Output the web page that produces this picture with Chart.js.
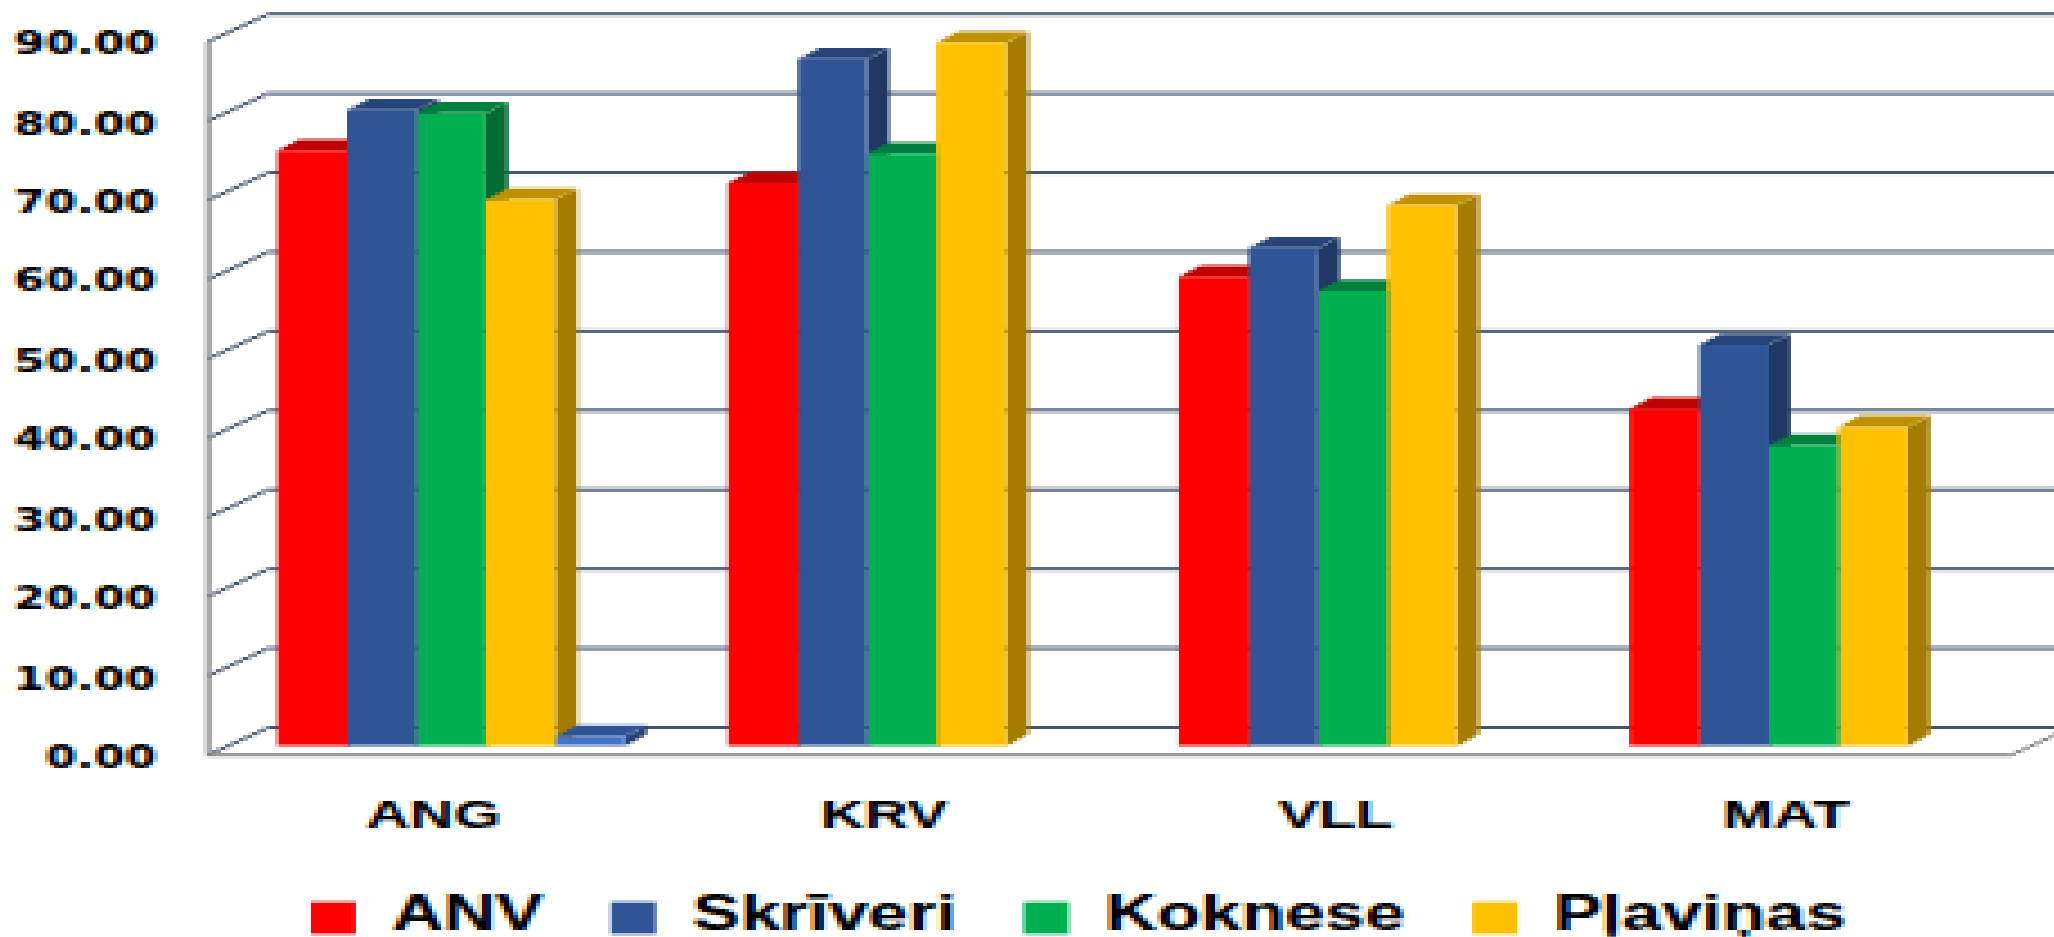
<!DOCTYPE html>
<html>
<head>
<meta charset="utf-8">
<title>ANG KRV VLL MAT</title>
<script src="https://cdn.jsdelivr.net/npm/chart.js@4"></script>
<style>
  html, body { margin: 0; padding: 0; background: #fff; overflow: hidden; width: 2054px; height: 937px; }
  /* the source is a small picture stretched wider than tall, so draw small and stretch */
  #chart { position: absolute; left: 0; top: 0; transform: scale(4.5, 3); transform-origin: 0 0; image-rendering: pixelated; }
</style>
</head>
<body>
<canvas id="chart" width="479" height="324"></canvas>
<script>
const categories = ['ANG', 'KRV', 'VLL', 'MAT'];
const anv = [75.1, 71.0, 59.2, 42.5];
const skriveri = [80.2, 86.6, 62.8, 50.6];
const koknese = [79.8, 74.7, 57.4, 37.9];
const plavinas = [68.9, 88.7, 68.2, 40.2];
const unnamed = [1.2, 0, 0, 0];

const seriesNames = ['ANV', 'Skrīveri', 'Koknese', 'Pļaviņas', ''];
const seriesValues = [anv, skriveri, koknese, plavinas, unnamed];
const frontColors = ['#ff0000', '#2f5597', '#00b050', '#ffc000', '#4472c4'];
const topColors = ['#bf0000', '#264478', '#00803d', '#bf9000', '#2f5597'];
const sideColors = ['#a00000', '#203864', '#006b33', '#a67c00', '#264478'];

const fontName = '"Liberation Sans", Arial, sans-serif';
const canvasWidth = 479, canvasHeight = 324;
const areaLeft = 46.2, areaRight = 446.9, areaTop = 13.9, areaBottom = 251.7;
const wallX = 13.4, wallY = 9.2;     // axis plane to back wall
const barX = 3.9, barY = -3.07;      // axis plane to front of the bars
const depthX = 4.9, depthY = 3.8;    // depth of a bar

function draw_wall(chart){
  const ctx = chart.ctx;
  const yAxis = chart.scales.y;
  const area = chart.chartArea;
  ctx.save();
  ctx.lineWidth = 1;
  ctx.strokeStyle = '#44546a';
  yAxis.ticks.forEach(function(tick){
    const y = yAxis.getPixelForValue(tick.value);
    ctx.beginPath();
    ctx.moveTo(area.left, y);
    ctx.lineTo(area.left + wallX, y - wallY);
    ctx.lineTo(area.right + wallX, y - wallY);
    ctx.stroke();
  });
  ctx.strokeStyle = '#868686';
  ctx.beginPath();
  ctx.moveTo(area.left, area.top);
  ctx.lineTo(area.left, area.bottom);
  ctx.lineTo(area.right, area.bottom);
  ctx.lineTo(area.right + wallX, area.bottom - wallY);
  ctx.stroke();
  ctx.restore();
}

function draw_depth(chart){
  const ctx = chart.ctx;
  chart.data.datasets.forEach(function(ds, i){
    chart.getDatasetMeta(i).data.forEach(function(bar, k){
      if(!seriesValues[i][k]) return;
      const right = bar.x + bar.width / 2;
      const left = bar.x - bar.width / 2;
      ctx.fillStyle = sideColors[i];
      ctx.beginPath();
      ctx.moveTo(right, bar.y);
      ctx.lineTo(right + depthX, bar.y - depthY);
      ctx.lineTo(right + depthX, bar.base - depthY);
      ctx.lineTo(right, bar.base);
      ctx.closePath();
      ctx.fill();
      ctx.fillStyle = topColors[i];
      ctx.beginPath();
      ctx.moveTo(left, bar.y);
      ctx.lineTo(left + depthX, bar.y - depthY);
      ctx.lineTo(right + depthX, bar.y - depthY);
      ctx.lineTo(right, bar.y);
      ctx.closePath();
      ctx.fill();
    });
  });
}

const depth_plugin = {
  id: 'depth',
  beforeDraw: function(chart){
    // context is opaque, clear leaves it black
    chart.ctx.save();
    chart.ctx.fillStyle = '#fff';
    chart.ctx.fillRect(0, 0, chart.width, chart.height);
    chart.ctx.restore();
  },
  beforeDatasetsDraw: function(chart){
    draw_wall(chart);
    chart.ctx.save();
    chart.ctx.translate(barX, barY);
    draw_depth(chart);
  },
  afterDatasetsDraw: function(chart){
    chart.ctx.restore();
  }
};

const canvas = document.getElementById('chart');
canvas.getContext('2d', {alpha: false});

const myChart = new Chart(canvas, {
  type: 'bar',
  plugins: [depth_plugin],
  data: {
    labels: categories,
    datasets: seriesNames.map(function(name, i){
      return {
        label: name,
        data: seriesValues[i],
        backgroundColor: frontColors[i],
        borderWidth: 0,
        inflateAmount: 0,
        categoryPercentage: 0.771,
        barPercentage: 1
      };
    })
  },
  options: {
    responsive: false,
    animation: false,
    devicePixelRatio: 1,
    layout: {
      autoPadding: false,
      padding: {left: 0, top: areaTop, right: 0, bottom: 0}
    },
    plugins: {
      title: {display: false},
      tooltip: {enabled: false},
      legend: {
        display: true,
        position: 'bottom',
        labels: {
          color: '#000',
          boxWidth: 10,
          boxHeight: 10.7,
          padding: 15,
          font: {family: fontName, size: 16, weight: 'bold'},
          filter: x => x.text != ''
        }
      }
    },
    scales: {
      x: {
        grid: {display: false, drawTicks: false},
        border: {display: false},
        ticks: {color: '#000', padding: 12.3, maxRotation: 0, font: {family: fontName, size: 13.5, weight: 'bold'}},
        afterFit: function(scale){
          scale.height = canvasHeight - scale.chart.legend.height - areaBottom;
        }
      },
      y: {
        min: 0,
        max: 90,
        grid: {display: false, drawTicks: false},
        border: {display: false},
        ticks: {
          color: '#000',
          stepSize: 10,
          padding: 11.6,
          labelOffset: 1.7,
          font: {family: '"DejaVu Sans"', size: 10, weight: 'bold'},
          callback: value => value.toFixed(2)
        },
        afterFit: function(scale){
          scale.width = areaLeft;
          // tick padding would otherwise push the plot top down
          scale.paddingTop = 0;
          scale.paddingBottom = 0;
        }
      },
      // empty axis, keeps the plot short of the right edge while the legend stays centred on the canvas
      gap: {
        type: 'linear',
        position: 'right',
        grid: {display: false, drawTicks: false},
        border: {display: false},
        ticks: {display: false},
        afterFit: function(scale){
          scale.width = canvasWidth - areaRight;
        }
      }
    }
  }
});
</script>
</body>
</html>
